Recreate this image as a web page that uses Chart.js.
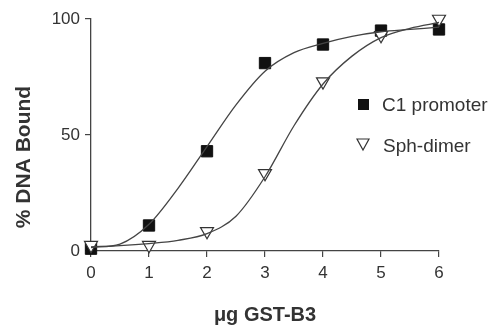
<!DOCTYPE html>
<html>
<head>
<meta charset="utf-8">
<script src="https://cdn.jsdelivr.net/npm/chart.js@4"></script>
<style>
  html, body { margin: 0; padding: 0; background: #fff; }
  #wrap { width: 490px; height: 325px; }
</style>
</head>
<body>
<div id="wrap"><canvas id="bindChart"></canvas></div>
<script>
// measured points
var doses = [0, 1, 2, 3, 4, 5, 6];
var c1Promoter = [1, 11, 43, 81, 89, 95, 95.5];
var sphDimer = [2.5, 2.5, 8.5, 33.5, 73, 93, 100];

// fitted curves
var curveX = [0, 0.5, 1, 1.5, 2, 2.5, 3, 3.5, 4, 4.5, 5, 5.5, 6];
var c1Curve = [1.5, 3, 11.5, 27, 45, 63, 77.5, 85.5, 89.5, 92.5, 94.5, 95.5, 96.5];
var sphCurve = [1.8, 2.3, 3.2, 4.6, 7.5, 15, 32, 54, 72, 84, 92, 96, 98.5];

var xTicks = [0, 1, 2, 3, 4, 5, 6];
var yTicks = [0, 50, 100];

var ink = '#333';
var font = 'Arial, "Liberation Sans", sans-serif';

function pts(xs, ys) {
  return xs.map(function (x, i) { return { x: x, y: ys[i] }; });
}

// legend + y title drawn at fixed spots like the original figure
var figureText = {
  id: 'figureText',
  afterDraw: function (chart) {
    var ctx = chart.ctx;
    ctx.save();
    ctx.fillStyle = ink;
    ctx.font = 'bold 21px ' + font;
    ctx.textAlign = 'center';
    ctx.textBaseline = 'middle';
    ctx.translate(24, 157);
    ctx.rotate(-Math.PI / 2);
    ctx.fillText('% DNA Bound', 0, 0);
    ctx.restore();

    ctx.save();
    ctx.font = '19px ' + font;
    ctx.textAlign = 'left';
    ctx.textBaseline = 'middle';
    ctx.fillStyle = '#111';
    ctx.fillRect(358, 99, 11, 11);
    ctx.fillStyle = ink;
    ctx.fillText('C1 promoter', 382, 106);
    ctx.beginPath();
    ctx.moveTo(357, 139);
    ctx.lineTo(369, 139);
    ctx.lineTo(363, 150);
    ctx.closePath();
    ctx.lineWidth = 1.2;
    ctx.strokeStyle = ink;
    ctx.stroke();
    ctx.fillText('Sph-dimer', 383, 147);
    ctx.restore();
  }
};

var ctx = document.getElementById('bindChart').getContext('2d');

var bindChart = new Chart(ctx, {
  type: 'line',
  data: {
    datasets: [
      {
        label: 'C1 fit',
        data: pts(curveX, c1Curve),
        borderColor: '#444',
        borderWidth: 1.3,
        pointRadius: 0,
        cubicInterpolationMode: 'monotone',
        fill: false
      },
      {
        label: 'Sph fit',
        data: pts(curveX, sphCurve),
        borderColor: '#444',
        borderWidth: 1.3,
        pointRadius: 0,
        cubicInterpolationMode: 'monotone',
        fill: false
      },
      {
        label: 'Sph-dimer',
        data: pts(doses, sphDimer),
        showLine: false,
        pointStyle: 'triangle',
        rotation: 180,
        pointRadius: 7.5,
        pointBackgroundColor: '#fff',
        pointBorderColor: ink,
        pointBorderWidth: 1.2,
        clip: false
      },
      {
        label: 'C1 promoter',
        data: pts(doses, c1Promoter),
        showLine: false,
        pointStyle: 'rect',
        pointRadius: 8,
        pointBackgroundColor: '#111',
        pointBorderColor: '#111',
        pointBorderWidth: 1,
        clip: false
      }
    ]
  },
  options: {
    responsive: true,
    maintainAspectRatio: false,
    animation: false,
    layout: { padding: { top: 19, right: 51, left: 0, bottom: 0 } },
    plugins: {
      legend: { display: false },
      tooltip: { enabled: false }
    },
    scales: {
      x: {
        type: 'linear',
        min: 0,
        max: 6,
        afterFit: function (scale) { scale.height = 74; },
        afterBuildTicks: function (scale) {
          scale.ticks = xTicks.map(function (v) { return { value: v }; });
        },
        ticks: { color: ink, font: { size: 17, family: font }, padding: 6 },
        grid: { drawOnChartArea: false, drawTicks: true, tickLength: 6, color: '#444', lineWidth: 1.2 },
        border: { color: '#444', width: 1.3 },
        title: {
          display: true,
          text: 'μg GST-B3',
          color: ink,
          font: { size: 20, weight: 'bold', family: font, lineHeight: 1 },
          padding: { top: 0, bottom: 0 }
        }
      },
      y: {
        min: 0,
        max: 100,
        afterFit: function (scale) { scale.width = 91; },
        afterBuildTicks: function (scale) {
          scale.ticks = yTicks.map(function (v) { return { value: v }; });
        },
        ticks: { color: ink, font: { size: 17, family: font }, padding: 5 },
        grid: { drawOnChartArea: false, drawTicks: true, tickLength: 6, color: '#444', lineWidth: 1.2 },
        border: { color: '#444', width: 1.3 }
      }
    }
  },
  plugins: [figureText]
});
</script>
</body>
</html>
